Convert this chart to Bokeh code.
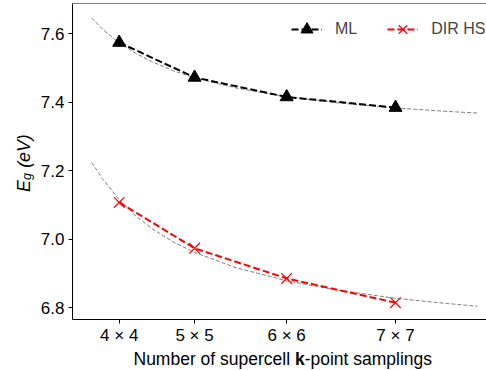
import math
from bokeh.plotting import figure
from bokeh.layouts import column, row
from bokeh.core.properties import value
from bokeh.models import (Range1d, FixedTicker, Span, Legend, LegendItem,
                          PrintfTickFormatter)
from bokeh.embed import file_html
from bokeh.resources import INLINE

# ---------------- data ----------------
n_kpoints = [16, 25, 36, 49]                      # N x N k-point grids
x_tick_labels = ["4 × 4", "5 × 5", "6 × 6", "7 × 7"]
ml_values = [7.574, 7.472, 7.415, 7.384]
dir_hs_values = [7.107, 6.973, 6.885, 6.814]

fit_x = [12.7, 14, 16, 18, 20, 22.5, 25, 30, 36, 42, 49, 55, 58.8]
ml_fit = [7.646, 7.613, 7.573, 7.542, 7.517, 7.491, 7.471, 7.441, 7.416, 7.398, 7.383, 7.373, 7.368]
dir_hs_fit = [7.224, 7.176, 7.115, 7.067, 7.029, 6.991, 6.961, 6.916, 6.878, 6.851, 6.827, 6.812, 6.804]

y_ticks = [6.8, 7.0, 7.2, 7.4, 7.6]

FONT = "Liberation Sans"
W, H = 486, 370
YT_W = 36          # width of the y-title strip
FRAME_TOP, FRAME_BOTTOM = 3, 320
MAIN_H = 347
XT_H = H - MAIN_H  # height of the x-title strip

p = figure(width=W - YT_W, height=MAIN_H, output_backend="svg", toolbar_location=None,
           x_range=Range1d(10.42, 59.87), y_range=Range1d(6.765, 7.688),
           min_border_left=72 - YT_W, min_border_right=0, min_border_top=FRAME_TOP,
           min_border_bottom=MAIN_H - FRAME_BOTTOM)
p.grid.visible = False
p.outline_line_color = None

# top spine
p.add_layout(Span(location=7.688, dimension="width", line_color="black", line_width=1))

# fits
p.line(fit_x, ml_fit, line_color="#808080", line_width=1, line_dash="4 2")
p.line(fit_x, dir_hs_fit, line_color="#808080", line_width=1, line_dash="4 2")

# data
ml_line = p.line(n_kpoints, ml_values, line_color="black", line_width=2, line_dash="7 3")
ml_pts = p.scatter(n_kpoints, ml_values, marker="triangle", size=13,
                   fill_color="black", line_color="black")
dir_line = p.line(n_kpoints, dir_hs_values, line_color="red", line_width=2, line_dash="7 3")
dir_pts = p.scatter(n_kpoints, dir_hs_values, marker="x", size=15,
                    line_color="red", line_width=1.2)

legend = Legend(items=[LegendItem(label="ML", renderers=[ml_line, ml_pts]),
                       LegendItem(label="DIR HS", renderers=[dir_line, dir_pts])],
                orientation="horizontal", location=(219, 275),
                border_line_color=None, background_fill_alpha=0,
                padding=0, margin=0, spacing=30,
                glyph_width=31, glyph_height=30, label_height=30,
                label_standoff=13,
                label_text_font=FONT, label_text_font_size="16px")
p.add_layout(legend)

# axes
xa = p.xaxis[0]
xa.ticker = FixedTicker(ticks=n_kpoints)
xa.major_label_overrides = {k: v for k, v in zip(n_kpoints, x_tick_labels)}
ya = p.yaxis[0]
ya.ticker = FixedTicker(ticks=y_ticks)
ya.formatter = PrintfTickFormatter(format="%.1f")
for ax in (xa, ya):
    ax.major_label_text_font = FONT
    ax.major_label_text_font_size = "17px"
    ax.major_label_text_color = "black"
    ax.axis_line_color = "black"
    ax.major_tick_line_color = "black"
    ax.minor_tick_line_color = None
    ax.major_tick_in = 0
    ax.major_tick_out = 4
    ax.axis_label = None
xa.major_label_standoff = 2
ya.major_label_standoff = 4


def strip(width, height, y_span):
    f = figure(width=width, height=height, output_backend="svg", toolbar_location=None,
               x_range=Range1d(0, width), y_range=Range1d(0, y_span), title=None,
               x_axis_type=None, y_axis_type=None, min_border=0)
    f.grid.visible = False
    f.outline_line_color = None
    return f


# ---- x title: "Number of supercell k-point samplings" (bold k)
fs = 17.5
xt = strip(W, XT_H, XT_H)          # y = 0 at the canvas bottom (370)
x0 = 133
yb = 12
kx = x0 + 9.225 * fs
xt.text(x=[x0], y=[yb], text=["Number of supercell"], text_font=value(FONT),
        text_font_size=value(f"{fs}px"), text_baseline="alphabetic", text_align="left")
xt.text(x=[kx], y=[yb], text=["k"], text_font=value(FONT), text_font_style="bold",
        text_font_size=value(f"{fs}px"), text_baseline="alphabetic", text_align="left")
xt.text(x=[kx + 0.556 * fs], y=[yb], text=["-point samplings"], text_font=value(FONT),
        text_font_size=value(f"{fs}px"), text_baseline="alphabetic", text_align="left")

# ---- y title: E_g (eV); this strip's frame lines up with the main frame
fy = 17.8
yt = strip(YT_W, MAIN_H, FRAME_BOTTOM - FRAME_TOP)   # y = 320 - canvas_y
bx = 23
by = FRAME_BOTTOM - 192
sub = 12.5
yt.text(x=[bx], y=[by], text=["E"], angle=math.pi / 2, text_font=value(FONT),
        text_font_style="italic", text_font_size=value(f"{fy}px"),
        text_baseline="alphabetic", text_align="left")
yt.text(x=[bx + 3.5], y=[by + 0.667 * fy], text=["g"], angle=math.pi / 2, text_font=value(FONT),
        text_font_style="italic", text_font_size=value(f"{sub}px"),
        text_baseline="alphabetic", text_align="left")
yt.text(x=[bx], y=[by + 0.667 * fy + 0.556 * sub + 0.3 * fy], text=["(eV)"], angle=math.pi / 2,
        text_font=value(FONT), text_font_style="italic", text_font_size=value(f"{fy}px"),
        text_baseline="alphabetic", text_align="left")

layout = column(row(yt, p), xt)
open("out.html", "w").write(file_html(layout, INLINE))
